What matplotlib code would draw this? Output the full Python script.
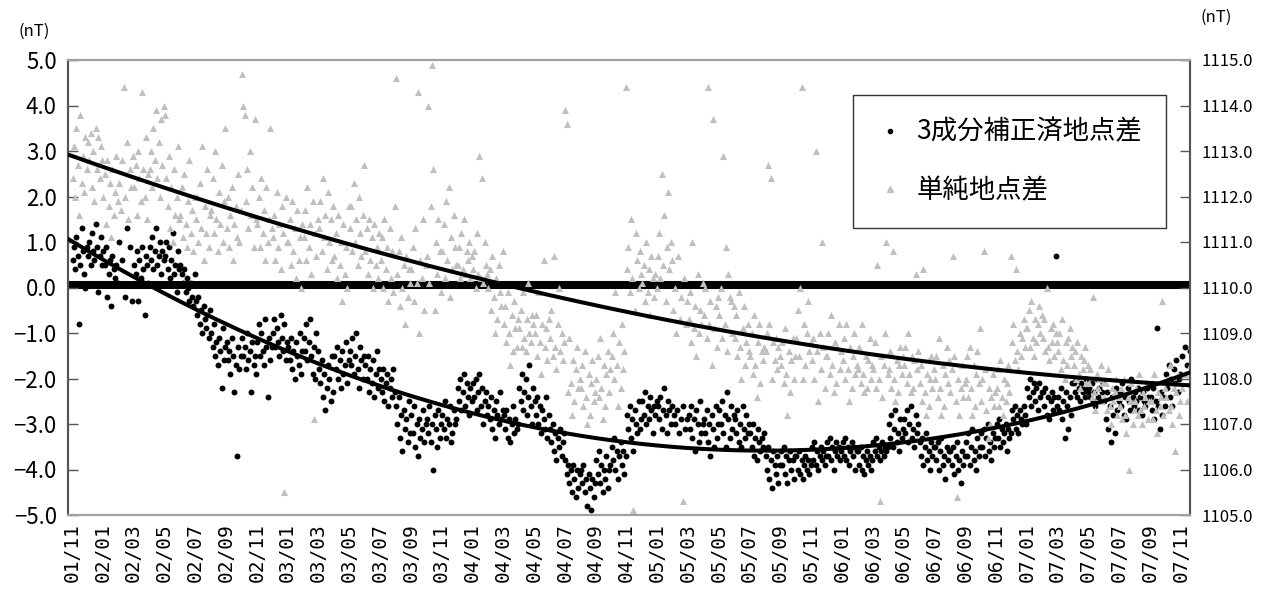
import numpy as np
import matplotlib.pyplot as plt
from matplotlib.lines import Line2D
from matplotlib.ticker import FuncFormatter, MultipleLocator

plt.rcParams['font.family'] = ['Noto Sans CJK JP', 'DejaVu Sans']

# x axis labels (every 2 months, 2001/11 .. 2007/11)
tick_labels = ["01/11", "02/01", "02/03", "02/05", "02/07", "02/09", "02/11",
               "03/01", "03/03", "03/05", "03/07", "03/09", "03/11",
               "04/01", "04/03", "04/05", "04/07", "04/09", "04/11",
               "05/01", "05/03", "05/05", "05/07", "05/09", "05/11",
               "06/01", "06/03", "06/05", "06/07", "06/09", "06/11",
               "07/01", "07/03", "07/05", "07/07", "07/09", "07/11"]

# 3成分補正済地点差 (left axis, nT), one list per month starting 2001/11
black_dots = [
    [0.6, 0.9, 0.4, 1.1, 0.7, -0.8, 0.5, 1.3, 0.8, 0.3, 0.0, 0.9],
    [0.7, 1.0, 0.5, 1.2, 0.8, 0.6, 1.4, 0.9, -0.1, 0.7, 1.1, 0.5],
    [0.8, 0.5, 0.9, -0.2, 0.3, 0.6, -0.4, 0.7, 0.4, 0.2, 0.5, 0.1],
    [1.0, 0.6, -0.2, 1.3, 0.9, -0.3],
    [0.5, 0.3, 0.8, -0.3, 0.6, 0.2, 0.9, 0.4, -0.6, 0.7, 0.5, 0.1],
    [0.9, 0.6, 1.1, 0.4, 0.8, 1.3, 0.5, 0.7, 1.0, 0.3, 0.8, 0.6],
    [0.7, 1.0, 0.4, 0.9, 0.2, 0.6, 1.2, 0.3, 0.5, -0.1, 0.8, 0.4],
    [0.5, 0.3, 0.1, 0.4, -0.1, 0.2, 0.0, -0.3, 0.1, -0.2, -0.4, 0.3],
    [-0.3, -0.6, -0.2, -0.8, -0.5, -1.0, -0.4, -0.7, -0.9, -0.6, -1.1, -0.5],
    [-1.0, -1.3, -0.8, -1.5, -1.2, -1.7, -1.1, -1.4, -2.2, -0.9, -1.6, -1.3],
    [-1.2, -1.6, -1.4, -1.9, -1.1, -1.5, -2.3, -1.7, -3.7, -1.3, -1.8, -1.5],
    [-1.1, -1.5, -1.3, -1.8, -1.0, -1.6, -1.4, -2.3, -1.2, -1.7, -1.5, -1.9],
    [-1.2, -0.8, -1.5, -1.0, -1.4, -1.7, -0.7, -1.3, -2.4, -1.1, -1.6, -1.3],
    [-1.0, -0.7, -1.3, -0.9, -1.2, -1.5, -0.6, -1.1, -1.4, -0.8, -1.6, -1.2],
    [-1.3, -1.6, -1.1, -1.8, -1.4, -2.0, -1.2, -1.5, -1.7, -1.0, -1.9, -1.4],
    [-1.1, -1.4, -0.8, -1.6, -1.2, -0.7, -1.5, -1.9, -1.3, -2.0, -1.0, -1.4],
    [-1.8, -2.1, -1.6, -2.4, -1.9, -2.7, -2.2, -1.7, -2.0, -2.5, -1.5, -2.3],
    [-1.5, -1.8, -1.3, -2.0, -1.6, -2.2, -1.4, -1.9, -1.7, -1.2, -2.1, -1.6],
    [-1.4, -1.7, -1.1, -1.9, -1.5, -1.0, -1.8, -2.2, -1.3, -1.6, -2.0, -1.5],
    [-1.7, -2.0, -1.5, -2.3, -1.8, -2.1, -1.6, -2.4, -1.9, -1.4, -2.2, -1.8],
    [-2.0, -2.3, -1.8, -2.5, -2.1, -1.9, -2.6, -2.2, -2.0, -2.4, -1.8, -2.3],
    [-2.6, -3.0, -2.4, -3.3, -2.8, -3.6, -2.7, -3.1, -2.9, -3.4, -2.5, -3.2],
    [-2.8, -3.2, -2.6, -3.5, -3.0, -3.7, -2.9, -3.3, -3.1, -2.7, -3.4, -3.0],
    [-2.9, -3.2, -2.6, -3.4, -3.0, -4.0, -2.8, -3.1, -3.5, -2.7, -3.3, -3.0],
    [-2.8, -3.1, -2.5, -3.3, -2.9, -3.0, -2.6, -3.4, -3.2, -2.7, -3.0, -2.9],
    [-2.2, -2.5, -2.0, -2.7, -2.3, -1.9, -2.6, -2.1, -2.4, -2.8, -2.2, -2.5],
    [-2.1, -2.4, -2.0, -2.7, -2.3, -1.9, -2.6, -2.2, -3.0, -2.5, -2.3, -2.8],
    [-2.6, -2.9, -2.4, -3.1, -2.7, -3.3, -2.5, -2.8, -3.0, -2.3, -2.9, -2.7],
    [-2.8, -3.1, -2.7, -3.3, -2.9, -3.4, -3.0, -2.6, -3.2, -2.9, -3.1, -3.0],
    [-2.2, -2.5, -1.9, -2.7, -2.3, -2.0, -2.8, -2.4, -1.7, -2.6, -3.0, -2.2],
    [-2.5, -2.8, -2.4, -3.0, -2.6, -3.2, -2.7, -2.9, -3.1, -2.4, -3.3, -2.8],
    [-3.1, -3.4, -3.0, -3.6, -3.2, -3.8, -3.3, -3.5, -3.1, -3.7, -3.4, -3.2],
    [-3.8, -4.1, -3.9, -4.3, -4.0, -4.5, -3.9, -4.2, -4.6, -4.0, -4.4, -4.1],
    [-4.0, -4.3, -3.9, -4.5, -4.2, -4.8, -4.1, -4.4, -4.9, -4.2, -4.6, -4.3],
    [-3.8, -4.1, -3.6, -4.3, -3.9, -4.5, -4.0, -4.2, -3.7, -4.4, -4.0, -3.9],
    [-3.5, -3.8, -3.3, -4.0, -3.6, -4.2, -3.7, -3.4, -3.9, -3.6, -4.1, -3.7],
    [-2.8, -3.1, -2.6, -3.3, -2.9, -3.6, -2.7, -3.0, -3.2, -2.5, -3.1, -2.9],
    [-2.5, -2.8, -2.3, -3.0, -2.6, -2.9, -2.4, -2.7, -3.2, -2.6, -2.8, -2.5],
    [-2.6, -2.9, -2.4, -3.1, -2.7, -2.2, -2.8, -3.2, -2.5, -2.7, -3.0, -2.6],
    [-2.8, -3.0, -2.7, -3.2, -2.9, -2.6, -3.1, -2.9],
    [-2.8, -3.1, -2.6, -3.3, -2.9, -3.6, -2.7, -3.0, -3.4, -2.5, -3.2, -3.0],
    [-2.9, -3.2, -2.7, -3.4, -3.0, -3.7, -2.8, -3.1, -3.5, -2.6, -3.3, -3.0],
    [-2.7, -3.0, -2.5, -3.2, -2.8, -3.5, -2.3, -2.9, -3.3, -2.6, -3.1, -2.8],
    [-2.9, -3.2, -2.7, -3.4, -3.0, -3.5, -2.6, -3.1, -3.3, -2.8, -3.2, -3.0],
    [-3.2, -3.5, -3.0, -3.7, -3.3, -3.8, -3.1, -3.4, -3.6, -3.3, -3.5, -3.2],
    [-3.7, -4.0, -3.5, -4.2, -3.8, -4.4, -3.6, -3.9, -4.1, -3.7, -4.3, -3.9],
    [-3.6, -3.9, -3.5, -4.1, -3.7, -4.3, -3.8, -3.6, -4.0, -3.8, -4.2, -3.7],
    [-3.7, -4.0, -3.6, -4.1, -3.8, -4.2, -3.9, -3.7, -4.0, -3.8, -4.1, -3.9],
    [-3.5, -3.8, -3.4, -3.9, -3.6, -4.0, -3.7, -3.5, -3.8, -3.6, -3.9, -3.7],
    [-3.4, -3.7, -3.3, -3.8, -3.5, -4.0, -3.6, -3.4, -3.7, -3.5, -3.8, -3.6],
    [-3.4, -3.7, -3.3, -3.8, -3.5, -3.9, -3.6, -3.4, -3.7, -3.5, -4.0, -3.6],
    [-3.6, -3.9, -3.5, -4.0, -3.7, -4.1, -3.8, -3.6, -3.9, -3.7, -4.0, -3.8],
    [-3.4, -3.6, -3.3, -3.7, -3.5, -3.8, -3.6, -3.4, -3.7, -3.5, -3.6, -3.5],
    [-3.0, -3.3, -2.8, -3.5, -3.1, -2.7, -3.4, -3.2, -3.6, -2.9, -3.3, -3.1],
    [-2.9, -3.2, -2.7, -3.4, -3.0, -2.6, -3.3, -3.1, -3.5, -2.8, -3.2, -3.0],
    [-3.4, -3.7, -3.3, -3.9, -3.5, -3.2, -3.8, -3.6, -4.0, -3.4, -3.7, -3.5],
    [-3.5, -3.8, -3.4, -4.0, -3.6, -3.3, -3.9, -3.7, -4.2, -3.5, -3.8, -3.6],
    [-3.6, -3.9, -3.5, -4.1, -3.7, -3.4, -4.0, -3.8, -4.3, -3.6, -3.9, -3.7],
    [-3.4, -3.7, -3.2, -3.9, -3.5, -3.1, -3.8, -3.6, -4.0, -3.3, -3.7, -3.5],
    [-3.2, -3.5, -3.1, -3.7, -3.3, -3.0, -3.6, -3.4, -3.8, -3.2, -3.5, -3.3],
    [-3.0, -3.3, -2.9, -3.5, -3.1, -3.4, -3.2, -3.0, -3.6, -3.1, -3.3, -3.2],
    [-2.7, -2.9, -2.6, -3.1, -2.8, -3.2, -2.7, -2.9, -3.0, -2.6, -2.8, -3.0],
    [-2.2, -2.4, -2.0, -2.6, -2.3, -2.1, -2.5, -2.2, -2.7, -2.1, -2.4, -2.3],
    [-2.3, -2.6, -2.2, -2.8, -2.4, -2.9, -2.5, -2.3, -2.7, -2.4, 0.7, -2.6],
    [-2.4, -2.7, -2.2, -2.9, -2.5, -3.3, -2.3, -2.6, -3.1, -2.4, -2.8, -2.1],
    [-2.1, -2.3, -2.0, -2.4, -2.2, -2.5, -2.1, -2.3, -2.2, -2.4, -2.0, -2.3],
    [-2.2, -2.4, -2.1, -2.5, -2.3, -2.6, -2.0, -2.4, -2.2, -2.5, -2.3, -2.1],
    [-2.5, -2.9, -2.3, -3.1, -2.6, -3.4, -2.4, -2.8, -3.2, -2.2, -2.7, -2.5],
    [-2.3, -2.6, -2.1, -2.8, -2.4, -2.9, -2.2, -2.5, -2.7, -2.0, -2.4, -2.6],
    [-2.3, -2.5, -2.2, -2.7, -2.4, -2.8, -2.3, -2.5, -2.6, -2.2, -2.4, -2.5],
    [-2.4, -2.7, -2.2, -2.9, -2.5, -0.9, -2.6, -3.1, -2.3, -2.8, -2.4, -2.6],
    [-1.9, -2.2, -1.7, -2.4, -2.0, -2.6, -1.8, -2.1, -1.6, -2.3, -2.0, -1.9],
    [-1.5, -1.3, -1.7, -1.4, -1.6, -1.8],
]

# 単純地点差 (right axis, nT), one list per month starting 2001/11
gray_tri = [
    [1112.4, 1113.1, 1112.0, 1113.5, 1112.7, 1111.6, 1113.8, 1112.3, 1112.9, 1112.1, 1113.3, 1112.6],
    [1113.2, 1112.8, 1113.4, 1112.2, 1113.0, 1111.9, 1113.5, 1112.6, 1113.3, 1112.4, 1113.1, 1112.8],
    [1112.0, 1112.5, 1111.4, 1112.8, 1111.8, 1112.3, 1111.1, 1112.6, 1111.6, 1112.1, 1112.9, 1111.9],
    [1112.3, 1111.7, 1112.8, 1114.4, 1112.0, 1113.2, 1111.5, 1112.6, 1112.2, 1112.9],
    [1112.2, 1112.7, 1111.6, 1113.0, 1112.4, 1111.9, 1114.3, 1112.6, 1112.0, 1113.3, 1111.5, 1112.5],
    [1112.6, 1113.0, 1112.2, 1113.5, 1112.8, 1113.9, 1112.4, 1113.2, 1112.0, 1113.7, 1112.7, 1114.0],
    [1113.8, 1112.4, 1111.8, 1112.9, 1111.3, 1112.2, 1111.0, 1112.6, 1111.6, 1112.0, 1113.1, 1111.5],
    [1111.6, 1112.2, 1111.1, 1112.5, 1111.4, 1110.9, 1111.9, 1112.8, 1111.2, 1111.7, 1110.8, 1112.0],
    [1111.5, 1112.0, 1111.0, 1112.3, 1111.3, 1113.1, 1110.6, 1111.8, 1111.2, 1112.6, 1110.9, 1111.6],
    [1111.7, 1112.4, 1111.2, 1113.0, 1111.5, 1110.8, 1112.1, 1111.4, 1112.7, 1111.0, 1111.9, 1113.5],
    [1111.3, 1112.0, 1110.9, 1111.6, 1112.2, 1110.6, 1111.4, 1111.8, 1111.1, 1112.5, 1111.0, 1111.7],
    [1114.7, 1114.0, 1113.8, 1111.9, 1112.6, 1111.3, 1113.0, 1111.6, 1112.2, 1110.9, 1113.7, 1111.5],
    [1111.4, 1112.0, 1110.9, 1112.4, 1111.2, 1111.7, 1110.6, 1112.2, 1111.0, 1111.5, 1113.5, 1111.3],
    [1111.1, 1111.6, 1110.6, 1112.1, 1110.9, 1111.4, 1110.4, 1111.8, 1111.2, 1105.5, 1112.0, 1111.0],
    [1111.0, 1111.5, 1110.5, 1111.9, 1110.8, 1111.3, 1110.2, 1111.7, 1110.6, 1111.1, 1110.0, 1111.4],
    [1111.1, 1111.7, 1110.6, 1112.2, 1110.9, 1111.4, 1110.3, 1111.9, 1107.1, 1111.2, 1110.7, 1111.5],
    [1111.3, 1111.9, 1110.8, 1112.4, 1111.1, 1111.6, 1110.4, 1112.1, 1111.0, 1111.5, 1110.6, 1111.8],
    [1110.7, 1111.2, 1110.2, 1111.6, 1110.5, 1111.0, 1109.7, 1111.4, 1110.3, 1110.9, 1110.0, 1111.8],
    [1111.3, 1111.8, 1110.8, 1112.3, 1111.0, 1111.5, 1110.5, 1112.0, 1111.2, 1110.7, 1111.6, 1112.7],
    [1110.8, 1111.3, 1110.3, 1111.5, 1110.6, 1111.1, 1110.0, 1111.4, 1110.5, 1110.9, 1110.2, 1111.2],
    [1110.6, 1111.1, 1110.0, 1111.5, 1110.4, 1110.9, 1109.7, 1111.3, 1110.2, 1110.8, 1109.9, 1111.8],
    [1114.6, 1110.3, 1110.8, 1109.6, 1111.1, 1110.0, 1110.5, 1109.2, 1110.7, 1109.8, 1110.4, 1110.1],
    [1110.4, 1110.9, 1109.7, 1111.3, 1110.1, 1114.3, 1109.0, 1110.6, 1110.2, 1111.5, 1109.5, 1110.5],
    [1110.7, 1114.0, 1110.1, 1111.8, 1114.9, 1112.6, 1109.5, 1111.0, 1110.3, 1111.5, 1110.8, 1109.9],
    [1110.8, 1111.4, 1110.2, 1111.9, 1110.6, 1112.2, 1109.8, 1111.1, 1110.4, 1111.6, 1110.9, 1110.5],
    [1110.5, 1110.9, 1110.2, 1111.2, 1110.4, 1111.5, 1110.3, 1110.8, 1110.6, 1111.0, 1110.2, 1110.7],
    [1110.4, 1110.8, 1110.0, 1111.2, 1110.3, 1112.9, 1110.2, 1112.4, 1110.1, 1111.0, 1110.5, 1110.3],
    [1110.0, 1110.4, 1109.5, 1110.7, 1109.8, 1109.0, 1110.2, 1109.3, 1110.5, 1109.9, 1109.6, 1110.8],
    [1109.2, 1109.6, 1108.8, 1109.9, 1109.0, 1108.3, 1109.4, 1108.6, 1109.7, 1109.1, 1108.7, 1109.3],
    [1109.1, 1109.5, 1108.7, 1109.9, 1108.9, 1108.6, 1109.3, 1110.1, 1109.0, 1108.8, 1109.4, 1109.2],
    [1109.0, 1109.4, 1108.5, 1109.9, 1108.8, 1108.1, 1109.2, 1110.6, 1108.7, 1109.1, 1108.4, 1109.3],
    [1108.9, 1109.5, 1108.5, 1110.7, 1108.7, 1108.2, 1109.2, 1110.0, 1108.6, 1109.0, 1108.4, 1108.8],
    [1113.9, 1113.6, 1107.7, 1108.9, 1107.9, 1107.2, 1108.4, 1107.5, 1108.2, 1108.7, 1107.8, 1108.0],
    [1107.8, 1108.3, 1107.4, 1108.6, 1107.6, 1107.0, 1108.1, 1107.2, 1107.9, 1108.4, 1107.5, 1107.7],
    [1108.0, 1108.5, 1107.6, 1108.9, 1107.8, 1107.1, 1108.3, 1107.4, 1108.1, 1108.6, 1107.7, 1108.2],
    [1108.5, 1109.0, 1108.0, 1109.9, 1108.3, 1107.4, 1108.8, 1107.8, 1109.2, 1108.2, 1108.6, 1114.4],
    [1110.4, 1110.9, 1109.9, 1111.5, 1110.2, 1105.1, 1109.5, 1111.2, 1110.6, 1110.0, 1110.8, 1110.3],
    [1110.1, 1110.5, 1109.7, 1111.0, 1109.9, 1110.4, 1109.4, 1110.7, 1110.2, 1109.8, 1110.3, 1110.0],
    [1110.7, 1111.2, 1110.2, 1112.5, 1110.5, 1111.6, 1109.7, 1110.9, 1112.1, 1110.4, 1111.0, 1110.6],
    [1109.5, 1110.0, 1109.0, 1110.7, 1109.3, 1109.8, 1105.3, 1110.2, 1109.2, 1109.7],
    [1109.3, 1109.9, 1108.8, 1111.0, 1109.1, 1109.6, 1108.5, 1110.3, 1109.0, 1109.5, 1109.2, 1110.1],
    [1109.4, 1110.0, 1108.9, 1114.4, 1109.2, 1109.7, 1108.3, 1113.7, 1109.1, 1109.6, 1108.7, 1109.8],
    [1109.4, 1110.0, 1108.9, 1112.9, 1109.2, 1110.9, 1108.6, 1110.3, 1109.8, 1109.7, 1109.0, 1109.6],
    [1108.9, 1109.4, 1108.5, 1109.9, 1108.7, 1108.0, 1109.1, 1109.6, 1108.3, 1108.8, 1109.2, 1108.6],
    [1108.5, 1109.0, 1108.1, 1109.4, 1108.3, 1107.6, 1108.8, 1109.2, 1107.9, 1108.6, 1108.4, 1108.7],
    [1108.6, 1109.0, 1112.7, 1109.2, 1112.4, 1108.0, 1108.8, 1108.4, 1108.9, 1108.2, 1108.7, 1108.5],
    [1108.3, 1108.8, 1107.9, 1109.1, 1108.1, 1107.2, 1108.6, 1107.7, 1108.4, 1108.9, 1108.0, 1108.5],
    [1108.9, 1109.5, 1108.5, 1110.0, 1114.4, 1108.0, 1109.2, 1108.3, 1109.0, 1109.7, 1108.6, 1108.8],
    [1108.4, 1108.9, 1108.0, 1113.0, 1108.6, 1107.5, 1109.0, 1108.2, 1111.0, 1108.7, 1107.8, 1108.5],
    [1108.5, 1109.0, 1108.1, 1109.4, 1108.3, 1107.7, 1108.8, 1107.9, 1108.7, 1109.2, 1108.2, 1108.6],
    [1108.4, 1108.9, 1108.0, 1109.2, 1108.2, 1107.5, 1108.7, 1107.8, 1108.5, 1109.0, 1108.1, 1108.3],
    [1108.2, 1108.7, 1107.9, 1109.2, 1108.1, 1107.7, 1108.5, 1107.8, 1108.4, 1108.9, 1108.0, 1108.3],
    [1108.2, 1108.8, 1107.8, 1110.5, 1108.0, 1105.3, 1108.5, 1107.6, 1108.3, 1109.0, 1111.0, 1108.1],
    [1108.2, 1108.6, 1107.8, 1110.8, 1108.0, 1107.5, 1108.4, 1107.7, 1108.3, 1108.7, 1108.1, 1108.5],
    [1108.3, 1108.7, 1107.9, 1109.0, 1108.1, 1107.7, 1108.5, 1107.8, 1108.4, 1110.3, 1108.2, 1108.6],
    [1107.9, 1108.3, 1107.5, 1110.4, 1107.7, 1107.2, 1108.1, 1107.4, 1108.0, 1108.5, 1107.8, 1108.2],
    [1108.0, 1108.5, 1107.6, 1108.9, 1107.8, 1107.2, 1108.3, 1107.4, 1108.1, 1108.7, 1107.9, 1108.4],
    [1107.7, 1108.2, 1110.7, 1108.5, 1107.5, 1105.4, 1108.0, 1107.2, 1107.8, 1108.3, 1107.6, 1107.9],
    [1108.0, 1108.5, 1107.6, 1108.7, 1107.8, 1107.2, 1108.3, 1107.4, 1108.1, 1108.6, 1107.9, 1109.1],
    [1107.5, 1108.0, 1110.8, 1108.2, 1107.3, 1106.7, 1107.8, 1107.0, 1107.6, 1108.1, 1107.4, 1107.7],
    [1107.8, 1108.2, 1107.4, 1108.4, 1107.6, 1107.2, 1108.0, 1107.5, 1107.9, 1108.3, 1107.7, 1110.7],
    [1108.8, 1109.2, 1108.4, 1110.4, 1108.6, 1108.2, 1109.0, 1108.5, 1108.9, 1109.3, 1108.7, 1109.1],
    [1109.1, 1109.5, 1108.7, 1109.7, 1108.9, 1108.5, 1109.3, 1108.8, 1109.2, 1109.6, 1109.0, 1109.4],
    [1108.9, 1109.3, 1108.6, 1110.0, 1108.7, 1108.4, 1109.1, 1108.8, 1109.2, 1108.5, 1109.0, 1108.8],
    [1108.6, 1109.0, 1108.2, 1109.3, 1108.4, 1108.0, 1108.8, 1108.3, 1108.9, 1109.1, 1108.5, 1108.7],
    [1108.3, 1108.6, 1108.0, 1108.8, 1108.1, 1107.8, 1108.5, 1108.2, 1108.4, 1108.7, 1107.9, 1108.3],
    [1107.9, 1108.2, 1107.6, 1109.8, 1107.7, 1107.3, 1108.1, 1107.8, 1108.0, 1108.3, 1107.5, 1107.9],
    [1107.6, 1107.9, 1107.3, 1108.2, 1107.4, 1107.0, 1107.8, 1107.5, 1107.7, 1108.0, 1107.2, 1107.6],
    [1107.4, 1107.8, 1107.1, 1108.0, 1107.2, 1106.8, 1107.6, 1106.0, 1107.5, 1107.9, 1107.0, 1107.3],
    [1107.5, 1107.8, 1107.2, 1108.1, 1107.3, 1107.0, 1107.7, 1107.4, 1107.6, 1107.9, 1107.1, 1107.5],
    [1107.5, 1107.9, 1107.1, 1108.1, 1107.3, 1106.8, 1107.7, 1107.4, 1107.6, 1109.7, 1107.2, 1107.8],
    [1107.6, 1108.0, 1107.3, 1108.3, 1107.4, 1107.0, 1107.8, 1106.4, 1107.7, 1108.1, 1107.2, 1107.5],
    [1107.8, 1108.1, 1107.5, 1108.3, 1107.6, 1107.2],
]

zero_level = 0.06  # thick reference line (left axis)


def month_positions(per_month):
    xs, ys = [], []
    for m, vals in enumerate(per_month):
        n = len(vals)
        xs.extend(m + (np.arange(n) + 0.5) / n)
        ys.extend(vals)
    return np.array(xs), np.array(ys)


bx, by = month_positions(black_dots)
gx, gy = month_positions(gray_tri)

x_min, x_max = -0.26, 72.6
xx = np.linspace(x_min, x_max, 300)
black_fit = np.polyval(np.polyfit(bx, by, 2), xx)
gray_fit = np.polyval(np.polyfit(gx, gy, 2), xx)

fig = plt.figure(figsize=(12.66, 5.96), dpi=100)
ax = fig.add_axes([68 / 1266, 1 - 515 / 596, 1122 / 1266, 455 / 596])
ax2 = ax.twinx()

ax.axhline(zero_level, color='black', lw=5.8, zorder=1)
ax.scatter(bx, by, s=18, marker='o', color='black', linewidths=0, zorder=2)

ax2.scatter(gx, gy, s=26, marker='^', color='#c0c0c0', linewidths=0, zorder=2)
ax2.plot(xx, gray_fit, color='black', lw=2.9, zorder=3)
ax2.plot(xx, black_fit, color='black', lw=2.9, zorder=3, transform=ax.transData)

ax.set_xlim(x_min, x_max)
ax.set_ylim(-5, 5)
ax2.set_ylim(1105, 1115)

ax.set_xticks(np.arange(0, 2 * len(tick_labels), 2))
ax.set_xticklabels(tick_labels, rotation=90, family='DejaVu Sans Mono', fontsize=14)
ax.tick_params(axis='x', length=0, pad=6)

fmt = FuncFormatter(lambda v, p: f"{v:.1f}".replace("-", "\u2212"))
ax.yaxis.set_major_locator(MultipleLocator(1))
ax.yaxis.set_major_formatter(fmt)
ax.tick_params(axis='y', direction='in', length=7, width=1, labelsize=16, pad=8, color='#555555')
ax2.yaxis.set_major_locator(MultipleLocator(1))
ax2.yaxis.set_major_formatter(fmt)
ax2.tick_params(axis='y', direction='in', length=7, width=1, labelsize=12, pad=8, color='#555555')

for a in (ax, ax2):
    a.spines['left'].set_color('#555555')
    a.spines['right'].set_color('#555555')
    a.spines['top'].set_color('#a0a0a0')
    a.spines['bottom'].set_color('#a0a0a0')
    for s in a.spines.values():
        s.set_linewidth(1.5)

fig.text(18 / 1266, 1 - 31 / 596, "(nT)", fontsize=12, va='center', ha='left')
fig.text(1200 / 1266, 1 - 17 / 596, "(nT)", fontsize=12, va='center', ha='left')

handles = [
    Line2D([], [], ls='', marker='o', color='black', markersize=3),
    Line2D([], [], ls='', marker='^', color='#c0c0c0', markersize=4),
]
leg = ax2.legend(handles, ["3成分補正済地点差", "単純地点差"],
                 loc='upper left', bbox_to_anchor=(853 / 1266, 1 - 95 / 596),
                 bbox_transform=fig.transFigure, fontsize=19, frameon=True,
                 fancybox=False, borderpad=0.9, labelspacing=1.2,
                 handlelength=1.0, handletextpad=0.5, borderaxespad=0)
leg.get_frame().set_edgecolor('black')
leg.get_frame().set_linewidth(1.0)

fig.savefig("out.png", dpi=100)
